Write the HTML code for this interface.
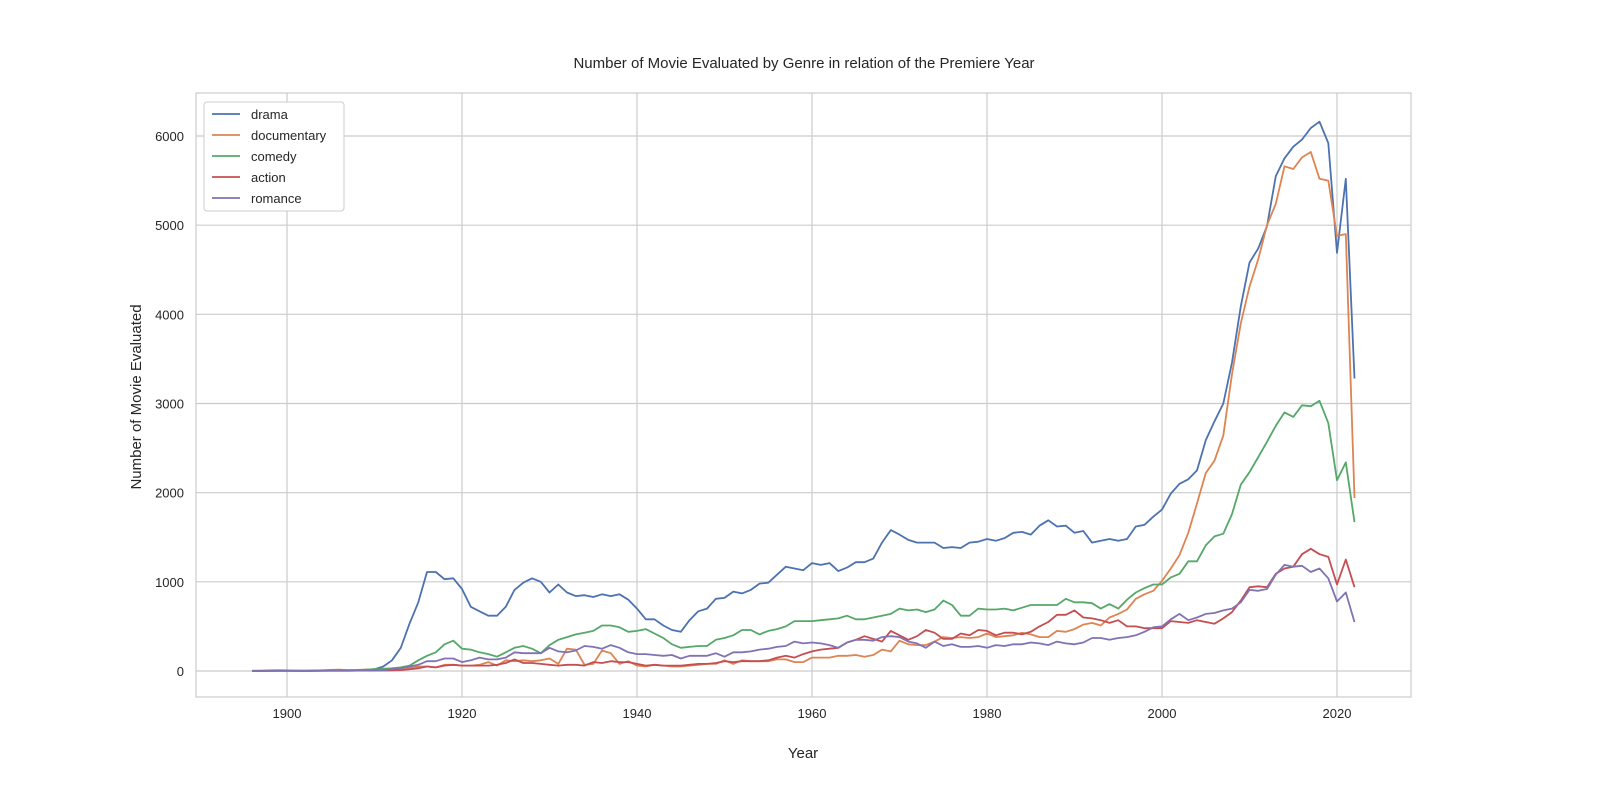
<!DOCTYPE html>
<html><head><meta charset="utf-8"><style>
body{margin:0;background:#fff;}
svg text{font-family:"Liberation Sans",sans-serif;fill:#262626;}
</style></head><body>
<svg id="chart" width="1600" height="800">
<rect x="196" y="93" width="1215" height="604" fill="#fff" stroke="#ccc" stroke-width="1.2"/>
<g id="grid"></g><g id="ticks"></g><g id="lines"></g>
<text x="804" y="68" text-anchor="middle" font-size="15">Number of Movie Evaluated by Genre in relation of the Premiere Year</text>
<text x="803" y="758" text-anchor="middle" font-size="15">Year</text>
<text transform="translate(141,397) rotate(-90)" text-anchor="middle" font-size="15">Number of Movie Evaluated</text>
<g id="legend"></g>
</svg>
<script>
const years=[];for(let y=1896;y<=2022;y++)years.push(y);
const xTicks=[1900,1920,1940,1960,1980,2000,2020];
const yTicks=[0,1000,2000,3000,4000,5000,6000];
const seriesNames=["drama","documentary","comedy","action","romance"];
const seriesColors=["#4c72b0","#dd8452","#55a868","#c44e52","#8172b3"];
const drama=[0,2,3,5,5,3,2,3,5,8,10,8,10,12,20,50,120,260,530,770,1110,1110,1030,1040,920,720,670,620,620,720,910,990,1040,1000,880,970,880,840,850,830,860,840,860,800,700,580,580,510,460,440,570,670,700,810,820,890,870,910,980,990,1080,1170,1150,1130,1210,1190,1210,1120,1160,1220,1220,1260,1440,1580,1530,1470,1440,1440,1440,1380,1390,1380,1440,1450,1480,1460,1490,1550,1560,1530,1630,1690,1620,1630,1550,1570,1440,1460,1480,1460,1480,1620,1640,1730,1810,1990,2100,2150,2250,2590,2800,3000,3460,4090,4580,4740,4990,5550,5750,5880,5960,6090,6160,5920,4690,5520,3280];
const documentary=[5,5,8,10,8,6,5,5,8,12,15,10,12,15,18,20,20,30,40,50,50,40,70,70,60,60,70,100,60,120,110,120,110,120,140,80,250,240,70,80,230,200,80,110,60,50,70,60,50,50,60,70,80,80,120,80,120,110,110,110,130,130,100,100,150,150,150,170,170,180,160,180,240,220,340,300,290,290,330,380,370,380,370,380,420,380,390,400,430,410,380,380,450,440,470,520,540,510,600,640,690,810,860,900,1010,1150,1300,1550,1880,2220,2360,2640,3330,3900,4310,4620,5000,5240,5660,5630,5760,5820,5520,5500,4880,4900,1940];
const comedy=[0,1,2,3,3,2,2,3,5,8,10,8,10,15,20,25,30,40,60,120,170,210,300,340,250,240,210,190,160,210,260,280,250,200,290,350,380,410,430,450,510,510,490,440,450,470,420,370,300,260,270,280,280,350,370,400,460,460,410,450,470,500,560,560,560,570,580,590,620,580,580,600,620,640,700,680,690,660,690,790,740,620,620,700,690,690,700,680,710,740,740,740,740,810,770,770,760,700,750,700,800,880,930,970,970,1050,1090,1230,1230,1410,1510,1540,1760,2090,2230,2400,2570,2750,2900,2850,2980,2970,3030,2780,2140,2340,1670];
const action=[0,0,1,1,1,1,1,2,3,3,5,3,4,5,6,6,8,10,20,30,50,40,60,70,60,60,60,60,70,90,130,90,90,80,70,60,70,70,60,100,90,110,100,100,80,60,70,60,60,60,70,80,80,90,110,100,110,110,110,120,150,170,150,190,220,240,250,260,320,350,390,360,330,450,400,350,390,460,430,360,360,420,400,460,450,400,430,430,410,440,500,550,630,630,680,600,590,570,540,570,500,500,480,480,480,560,550,540,570,550,530,590,660,790,940,950,940,1090,1150,1170,1310,1370,1310,1280,970,1250,940];
const romance=[0,0,1,1,1,1,1,2,2,3,4,3,4,5,8,10,20,30,50,70,110,110,140,140,100,120,150,130,130,150,210,200,200,200,260,220,210,230,280,270,250,290,260,210,190,190,180,170,180,140,170,170,170,200,160,210,210,220,240,250,270,280,330,310,320,310,290,260,320,350,350,340,380,390,380,330,310,260,330,280,300,270,270,280,260,290,280,300,300,320,310,290,330,310,300,320,370,370,350,370,380,400,440,490,500,580,640,570,600,640,650,680,700,770,910,900,920,1080,1190,1170,1180,1110,1150,1040,780,880,550];
const seriesData=[drama,documentary,comedy,action,romance];
const NS="http://www.w3.org/2000/svg";
const xS=y=>287+(y-1900)*8.75;
const yS=v=>671-v*(535/6000);
function mk(t,a,p){const e=document.createElementNS(NS,t);for(const k in a)e.setAttribute(k,a[k]);p.appendChild(e);return e;}
const grid=document.getElementById('grid'),ticks=document.getElementById('ticks');
xTicks.forEach(t=>{
 const l=mk('line',{x1:xS(t),x2:xS(t),y1:93,y2:697,stroke:'#ccc','stroke-width':1.2},grid);
 
 
 const tx=mk('text',{x:xS(t),y:718,'text-anchor':'middle','font-size':13},ticks);tx.textContent=t;
 
 
});
yTicks.forEach(t=>{
 const l=mk('line',{x1:196,x2:1411,y1:yS(t),y2:yS(t),stroke:'#ccc','stroke-width':1.2},grid);
 
 
 const tx=mk('text',{x:184,y:yS(t)+5,'text-anchor':'end','font-size':13},ticks);tx.textContent=t;
 
 
});
const lines=document.getElementById('lines');
seriesData.forEach((d,i)=>{
 const pts=d.map((v,j)=>xS(years[j]).toFixed(1)+','+yS(v).toFixed(1)).join(' ');
 const p=mk('polyline',{points:pts,fill:'none',stroke:seriesColors[i],'stroke-width':1.8,'stroke-linejoin':'round'},lines);
 
 
});
const lg=document.getElementById('legend');
const box=mk('rect',{x:204,y:102,width:140,height:109,rx:3,fill:'#fff',stroke:'#ccc'},lg);


seriesNames.forEach((n,i)=>{
 const y=114+i*21;
 const g=mk('g',{},lg);
 
 
 mk('line',{x1:212,x2:240,y1:y,y2:y,stroke:seriesColors[i],'stroke-width':1.8},g);
 const t=mk('text',{x:251,y:y+5,'font-size':13},g);t.textContent=n;
});
</script>
</body></html>
